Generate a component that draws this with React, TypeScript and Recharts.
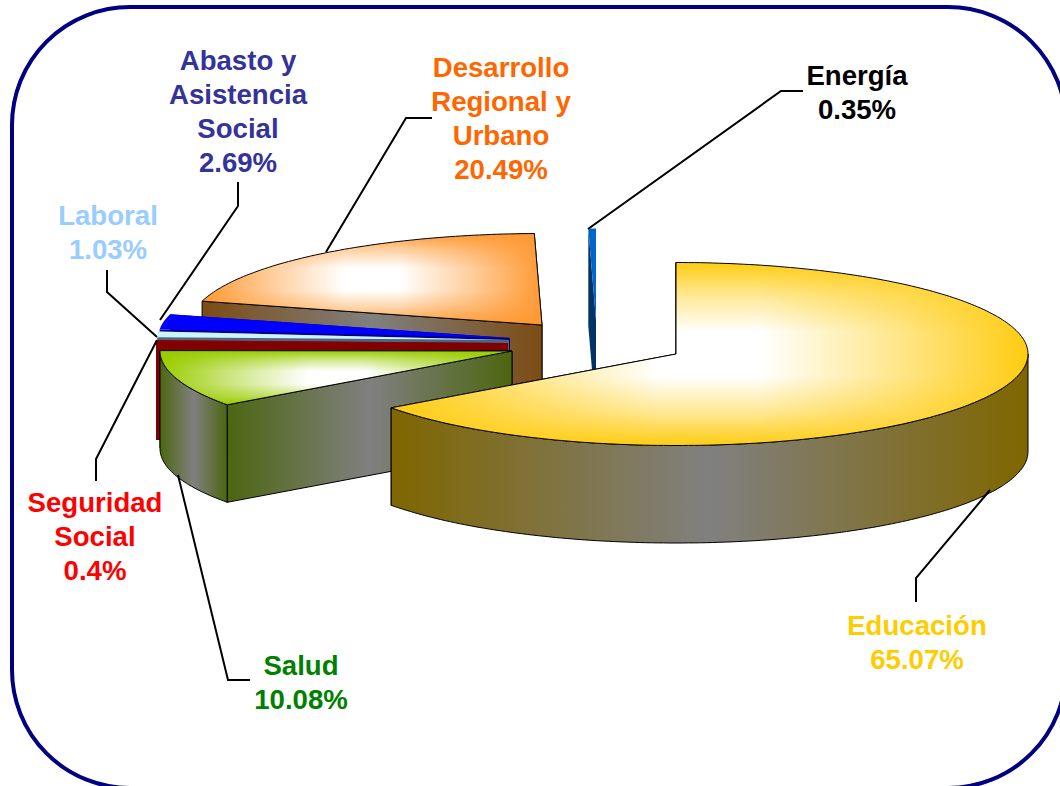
import { PieChart, Pie, Text } from 'recharts';

const WIDTH = 1060;
const HEIGHT = 786;

// painter's order: back slices first, Educacion last
const categories = ['Energía', 'Desarrollo', 'Abasto', 'Laboral', 'Seguridad', 'Salud', 'Educación'];
const values = [0.35, 20.49, 2.69, 1.03, 0.4, 10.08, 65.07];
const labelLines = [
  ['Energía', '0.35%'],
  ['Desarrollo', 'Regional y', 'Urbano', '20.49%'],
  ['Abasto y', 'Asistencia', 'Social', '2.69%'],
  ['Laboral', '1.03%'],
  ['Seguridad', 'Social', '0.4%'],
  ['Salud', '10.08%'],
  ['Educación', '65.07%'],
];

const data = categories.map((name, i) => ({ name, value: values[i] }));

const TOP_COLORS = ['#0066cc', '#ff9933', '#0000ff', '#ccf4ff', '#8b0000', '#99cc00', '#ffcc11'];
const WALL_COLORS = ['#003366', '#7c4c14', '#000080', '#4c6680', '#800000', '#4c6610', '#7f6600'];
const TEXT_COLORS = ['#000000', '#ff6600', '#333399', '#99ccff', '#ff0000', '#008000', '#ffcc00'];
// the three big slices get the white shine and a black outline, the thin ones stay flat
const SHADED = [false, true, false, false, false, true, true];
const EXPLODE = [[-80, -34], [-134, -29], [-166, -16], [-167, -14], [-168, -11], [-164, -3], [0, 0]];
const LABEL_POS = [[857, 75.5], [501, 67.5], [238, 60.5], [108, 215.5], [95, 502.5], [301, 665.5], [917, 625.5]];
const LEADERS = [
  '588,229 781,91 803,91',
  '326,252 406,118 432,118',
  '160,320 238,206 238,182',
  '157,337 107,292 107,270',
  '157,340 96,459 96,481',
  '178,475 228,680 250,680',
  '990,490 916,578 916,602',
];

const SQUASH = 91.5 / 352;
const DEPTH = 97.5;
const RAD = Math.PI / 180;

function arcPoints(ax: number, ay: number, rx: number, ry: number, from: number, to: number) {
  const pts: [number, number][] = [];
  const steps = Math.max(2, Math.ceil(Math.abs(to - from)));
  for (let k = 0; k <= steps; k++) {
    const t = (from + ((to - from) * k) / steps) * RAD;
    pts.push([ax + rx * Math.cos(t), ay - ry * Math.sin(t)]);
  }
  return pts;
}

const toPath = (pts: [number, number][]) =>
  'M' + pts.map((p) => `${p[0].toFixed(1)},${p[1].toFixed(1)}`).join('L') + 'Z';

function Slice3D(props: any) {
  const { cx, cy, outerRadius, startAngle, endAngle } = props;
  const name = props.payload?.name ?? props.name;
  const i = categories.indexOf(name);
  const ax = cx + EXPLODE[i][0];
  const ay = cy + EXPLODE[i][1];
  const rx = outerRadius;
  const ry = rx * SQUASH;
  const rim = arcPoints(ax, ay, rx, ry, startAngle, endAngle);
  const topPath = toPath([[ax, ay], ...rim]);

  const cut = (p: [number, number]) =>
    toPath([[ax, ay], p, [p[0], p[1] + DEPTH], [ax, ay + DEPTH]]);
  // the cut face that reaches further back goes first
  const ends = [rim[0], rim[rim.length - 1]].sort((a, b) => a[1] - b[1]);

  // outer wall only where the rim faces the viewer (180..360 deg)
  const wallFrom = Math.max(startAngle, 180);
  const wallTo = Math.min(endAngle, 360);
  let wallPath = '';
  if (wallTo > wallFrom) {
    const front = arcPoints(ax, ay, rx, ry, wallFrom, wallTo);
    const back = arcPoints(ax, ay + DEPTH, rx, ry, wallTo, wallFrom);
    wallPath = toPath([...front, ...back]);
  }

  const line = SHADED[i] ? { stroke: '#000', strokeWidth: 1 } : { stroke: 'none' };
  const top = TOP_COLORS[i];
  const wall = WALL_COLORS[i];
  const wallFill = SHADED[i] ? `url(#wall-${i})` : wall;

  return (
    <g>
      <defs>
        <linearGradient id={`wall-${i}`} x1="0" y1="0" x2="1" y2="0">
          <stop offset="0" stopColor={wall} />
          <stop offset="0.5" stopColor="#808080" />
          <stop offset="1" stopColor={wall} />
        </linearGradient>
        <linearGradient id={`topx-${i}`} x1="0" y1="0" x2="1" y2="0">
          <stop offset="0" stopColor={top} stopOpacity={1} />
          <stop offset="0.2" stopColor={top} stopOpacity={0.5} />
          <stop offset="0.42" stopColor={top} stopOpacity={0} />
          <stop offset="0.58" stopColor={top} stopOpacity={0} />
          <stop offset="0.8" stopColor={top} stopOpacity={0.5} />
          <stop offset="1" stopColor={top} stopOpacity={1} />
        </linearGradient>
        <linearGradient id={`topy-${i}`} x1="0" y1="0" x2="0" y2="1">
          <stop offset="0" stopColor={top} stopOpacity={1} />
          <stop offset="0.18" stopColor={top} stopOpacity={0.45} />
          <stop offset="0.38" stopColor={top} stopOpacity={0} />
          <stop offset="0.62" stopColor={top} stopOpacity={0} />
          <stop offset="0.82" stopColor={top} stopOpacity={0.45} />
          <stop offset="1" stopColor={top} stopOpacity={1} />
        </linearGradient>
      </defs>
      <path d={cut(ends[0])} fill={wallFill} {...line} />
      <path d={cut(ends[1])} fill={wallFill} {...line} />
      {wallPath && <path d={wallPath} fill={wallFill} {...line} />}
      {SHADED[i] ? (
        <>
          <path d={topPath} fill="#fff" />
          <path d={topPath} fill={`url(#topx-${i})`} />
          <path d={topPath} fill={`url(#topy-${i})`} {...line} />
        </>
      ) : (
        <path d={topPath} fill={top} />
      )}
    </g>
  );
}

function SliceLabel(props: any) {
  const name = props.payload?.name ?? props.name;
  const i = categories.indexOf(name);
  const [x, y] = LABEL_POS[i];
  return (
    <g>
      <polyline points={LEADERS[i]} fill="none" stroke="#000" strokeWidth={2} />
      {labelLines[i].map((t, k) => (
        <Text
          key={t}
          x={x}
          y={y + k * 34}
          textAnchor="middle"
          verticalAnchor="middle"
          fill={TEXT_COLORS[i]}
          fontFamily="'Liberation Sans', Arial, sans-serif"
          fontWeight="bold"
          fontSize={27.6}
        >
          {t}
        </Text>
      ))}
    </g>
  );
}

export default function App() {
  return (
    <div style={{ position: 'absolute', left: 0, top: 0, width: WIDTH, height: HEIGHT, overflow: 'hidden', background: '#fff' }}>
      <div
        style={{
          position: 'absolute',
          left: 10,
          top: 5,
          width: 1050,
          height: 777,
          border: '4px solid #000080',
          borderRadius: 120,
        }}
      />
      <div style={{ position: 'absolute', left: 0, top: 0 }}>
        <PieChart width={WIDTH} height={HEIGHT} margin={{ top: 0, right: 0, bottom: 0, left: 0 }}>
          <Pie
            data={data}
            dataKey="value"
            nameKey="name"
            cx={676}
            cy={354}
            innerRadius={0}
            outerRadius={352}
            startAngle={90}
            endAngle={450}
            stroke="none"
            isAnimationActive={false}
            shape={Slice3D}
            label={SliceLabel}
            labelLine={false}
          />
        </PieChart>
      </div>
    </div>
  );
}
